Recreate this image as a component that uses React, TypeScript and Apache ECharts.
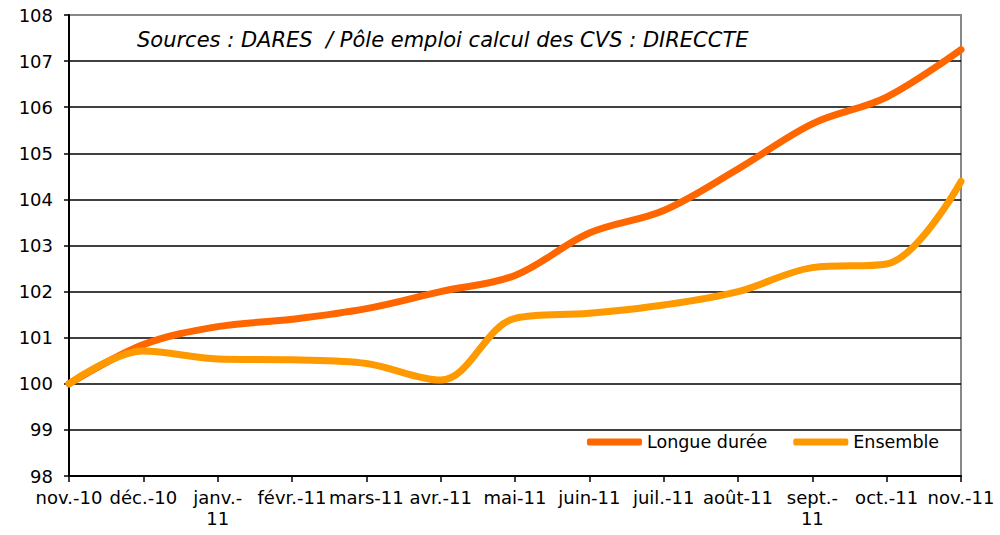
import React, { useEffect, useRef } from "react";
import * as echarts from "echarts";

const categories = [
  "nov.-10", "déc.-10", "janv.-\n11", "févr.-11", "mars-11", "avr.-11", "mai-11",
  "juin-11", "juil.-11", "août-11", "sept.-\n11", "oct.-11", "nov.-11",
];
const longueDuree = [100.0, 100.85, 101.24, 101.4, 101.63, 102.0, 102.35, 103.27, 103.76, 104.66, 105.64, 106.22, 107.25];
const ensemble = [100.0, 100.71, 100.54, 100.52, 100.44, 100.08, 101.42, 101.53, 101.71, 102.0, 102.52, 102.6, 104.39];
const yTicks = { min: 98, max: 108, interval: 1 };
const titleText = "Sources : DARES  / Pôle emploi calcul des CVS : DIRECCTE";

export default function App() {
  const ref = useRef<HTMLDivElement>(null);
  useEffect(() => {
    if (!ref.current) return;
    const chart = echarts.init(ref.current, null, { renderer: "svg" });
    const font = "DejaVu Sans";
    chart.setOption({
      animation: false,
      backgroundColor: "#fff",
      title: {
        text: titleText,
        left: 137,
        top: 29,
        padding: 0,
        textStyle: { fontFamily: font, fontSize: 21, fontStyle: "italic", fontWeight: "normal", color: "#000" },
      },
      legend: {
        left: 587,
        top: 432,
        padding: 0,
        itemWidth: 55,
        itemHeight: 7,
        itemGap: 26,
        icon: "roundRect",
        textStyle: { fontFamily: font, fontSize: 17.5, color: "#000", lineHeight: 20 },
        data: ["Longue durée", "Ensemble"],
      },
      grid: {
        left: 69,
        right: 39,
        top: 15,
        bottom: 59,
        show: true,
        borderColor: "#888",
        borderWidth: 2,
        backgroundColor: "#fff",
      },
      xAxis: {
        type: "category",
        data: categories,
        boundaryGap: false,
        axisLine: { lineStyle: { color: "#000", width: 2 } },
        axisTick: { show: true, alignWithLabel: true, length: 6, lineStyle: { color: "#000", width: 1.5 } },
        axisLabel: {
          interval: 0,
          fontFamily: font,
          fontSize: 18,
          color: "#000",
          margin: 11,
          lineHeight: 21,
        },
        splitLine: { show: false },
      },
      yAxis: {
        type: "value",
        min: yTicks.min,
        max: yTicks.max,
        interval: yTicks.interval,
        axisLine: { show: true, lineStyle: { color: "#000", width: 2 } },
        axisTick: { show: true, length: 5, lineStyle: { color: "#000", width: 1.5 } },
        axisLabel: { fontFamily: font, fontSize: 18, color: "#000", margin: 16 },
        splitLine: { show: true, showMaxLine: false, lineStyle: { color: "#000", width: 1.5 } },
      },
      series: [
        {
          name: "Longue durée",
          type: "line",
          data: longueDuree,
          smooth: 0.35,
          symbol: "none",
          color: "#FF6600",
          lineStyle: { width: 7, color: "#FF6600", cap: "round" },
          z: 3,
        },
        {
          name: "Ensemble",
          type: "line",
          data: ensemble,
          smooth: 0.35,
          symbol: "none",
          color: "#FF9900",
          lineStyle: { width: 7, color: "#FF9900", cap: "round" },
          z: 4,
        },
      ],
    });
    return () => chart.dispose();
  }, []);
  return (
    <div
      ref={ref}
      style={{ position: "fixed", left: 0, top: 0, width: 1000, height: 535 }}
    />
  );
}
